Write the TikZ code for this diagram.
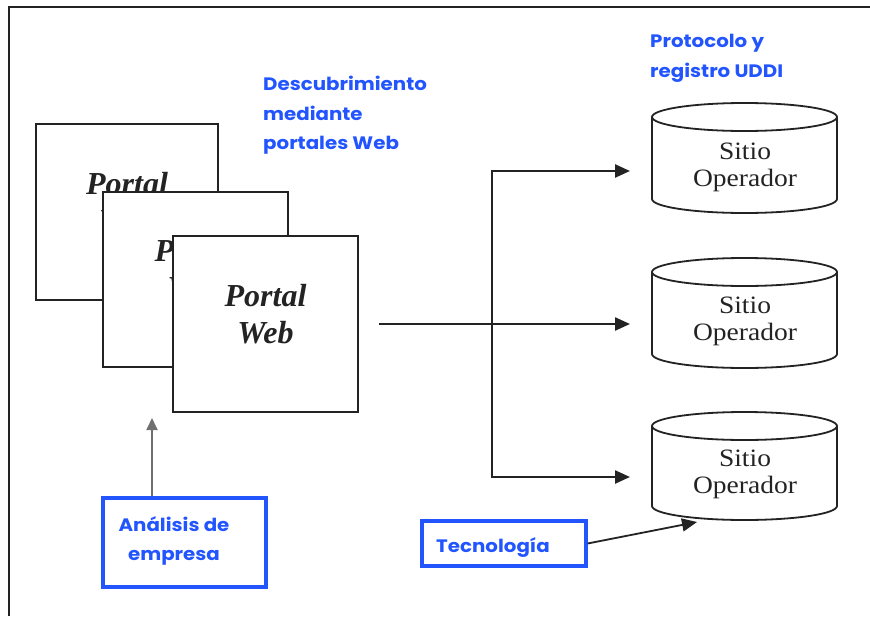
\documentclass[tikz,border=0pt]{standalone}
\usepackage{fontspec}
\setmainfont{Liberation Serif}
\newfontfamily\handfont{Poppins}[FakeStretch=1.1]
\newfontfamily\sitiofont{Liberation Serif}[FakeStretch=1.1]
\usetikzlibrary{arrows.meta}
\definecolor{noteblue}{RGB}{35,85,255}
\definecolor{ink}{RGB}{35,35,35}

% drum outline: #1 top edge, #2 bottom edge
\newcommand\sitiodrum[2]{%
  \draw[drum] (652,#1+14) -- (652,#2-14)
    arc[start angle=180,end angle=360,x radius=92.5pt,y radius=14pt]
    -- (837,#1+14);
  \draw[drum] (744.5,#1+14) ellipse[x radius=92.5pt,y radius=14pt];
}

\begin{document}
\begin{tikzpicture}[x=1pt,y=-1pt,
  portal/.style={draw=ink, line width=2.4pt, fill=white, minimum width=185pt,
    minimum height=176pt, inner sep=0pt},
  portaltext/.style={font=\fontsize{32}{37}\selectfont\bfseries\itshape,
    align=center, text=ink, inner sep=0pt},
  drum/.style={draw=ink, line width=1.8pt},
  sitio/.style={font=\sitiofont\fontsize{25}{27}\selectfont, align=center, text=ink, inner sep=0pt},
  note/.style={font=\handfont\bfseries\fontsize{18}{29.5}\selectfont, text=noteblue,
    inner sep=0pt},
  notebox/.style={draw=noteblue, line width=3.2pt, inner sep=0pt},
  link/.style={draw=ink, line width=2.4pt, -{Triangle[length=15pt,width=13pt]}},
  twoway/.style={draw=ink, line width=2.4pt, line join=miter,
    {Triangle[length=15pt,width=13pt]}-{Triangle[length=15pt,width=13pt]}},
  thinlink/.style={draw=ink!65, line width=1.8pt, -{Triangle[length=12pt,width=11pt]}},
]
\useasboundingbox (0,0) rectangle (870,616);
\fill[white] (0,0) rectangle (870,616);

% outer frame
\draw[ink, line width=2pt] (9,616) -- (9,7) -- (870,7);

% stacked portal pages
\node[portal, minimum width=182pt] (p1) at (127,212) {};
\node[portaltext] (p1t) at ([yshift=10pt]p1.center) {Portal\\Web};
\node[portal, minimum height=175pt] (p2) at (195.5,279.5) {};
\node[portaltext] (p2t) at ([yshift=10pt]p2.center) {Portal\\Web};
\node[portal] (p3) at (265.5,324) {};
\node[portaltext] (p3t) at ([yshift=10pt]p3.center) {Portal\\Web};

% blue captions
\node[note, align=left, anchor=north west] (desc) at (263,76)
  {Descubrimiento\\mediante\\portales Web};
\node[note, align=left, anchor=north west] (uddi) at (650,34)
  {Protocolo y\\registro UDDI};

% operator sites
\sitiodrum{103}{213}
\node[sitio] (c1) at (745,167) {Sitio\\Operador};
\sitiodrum{258}{368}
\node[sitio] (c2) at (745,321) {Sitio\\Operador};
\sitiodrum{412}{520}
\node[sitio] (c3) at (745,474) {Sitio\\Operador};

% distribution arrows
\coordinate (a1) at (630,171);
\coordinate (a2) at (630,324);
\coordinate (a3) at (630,477);
\coordinate (bj) at (492,324);
\draw[link] ([xshift=20pt]p3.east) -- (a2);
\draw[twoway] (a1) -- (a1 -| bj) -- (a3 -| bj) -- (a3);

% analysis box
\node[notebox, minimum width=163pt, minimum height=89pt] (ana) at (184.5,542.5) {};
\node[note, align=center] (anat) at (174,541) {Análisis de\\empresa};
\coordinate (an) at (152,418);
\draw[thinlink] (ana.north -| an) -- (an);

% technology box
\node[notebox, minimum width=164pt, minimum height=45pt] (tec) at (504,543.5) {};
\node[note] (tect) at (493,547) {Tecnología};
\coordinate (c3b) at (697,522);
\draw[link, line width=1.8pt] (tec.east) -- (c3b);
\end{tikzpicture}
\end{document}
